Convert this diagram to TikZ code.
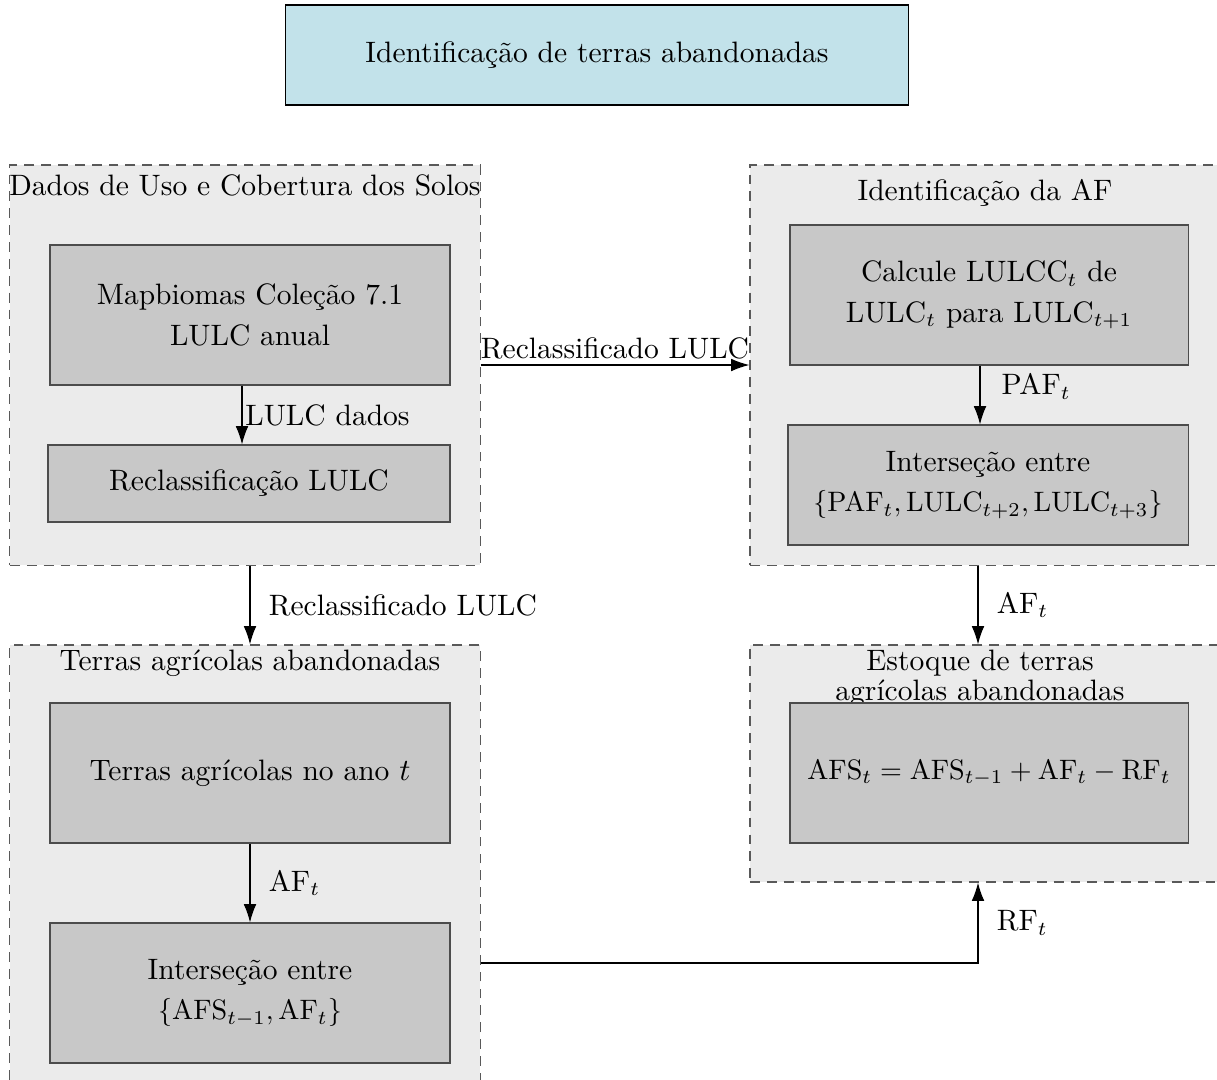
\documentclass[tikz,border=0pt]{standalone}
\usetikzlibrary{arrows.meta}
\definecolor{topblue}{HTML}{C2E2EA}
\definecolor{grpgray}{HTML}{EBEBEB}
\definecolor{blkgray}{HTML}{C8C8C8}
\tikzset{
  grp/.style={draw=black!65, dash pattern=on 3.5pt off 2.5pt, fill=grpgray, minimum width=5.875cm},
  blk/.style={draw=black!70, fill=blkgray, minimum width=5cm, minimum height=1.75cm, align=center, font=\fontsize{10.5}{14.5}\selectfont},
  arr/.style={-{Latex[length=6.5pt,width=4.5pt]}}
}
\begin{document}
\fontsize{10.5}{12.6}\selectfont
\begin{tikzpicture}[x=0.0125cm,y=-0.0125cm]
  \useasboundingbox (0,0) rectangle (1217,1079);
  \node[draw, fill=topblue, minimum width=7.775cm, minimum height=1.25cm] (top) at (597,55) {Identificação de terras abandonadas};
  % grupos
  \node[grp, minimum height=5cm] (dados) at (245,365) {};
  \node[grp, minimum height=5cm] (ident) at (985,365) {};
  \node[grp, minimum height=5.5cm] (terras) at (245,865) {};
  \node[grp, minimum height=2.9625cm] (estoque) at (985,763.5) {};
  \node (dadost) at (245,185) {Dados de Uso e Cobertura dos Solos};
  \node (identt) at (985,193) {Identificação da AF};
  \node (terrast) at (250,663) {Terras agrícolas abandonadas};
  \node[align=center, inner sep=0pt] (estoquet) at (980,678) {Estoque de terras\\[-2pt] agrícolas abandonadas};
  % blocos
  \node[blk] (mapb) at (250,315) {Mapbiomas Coleção 7.1\\LULC anual};
  \node[blk, minimum width=5.025cm, minimum height=0.9625cm] (recl) at (249,483.5) {Reclassificação LULC};
  \node[blk, minimum width=4.975cm] (calc) at (989,295) {Calcule LULCC$_t$ de\\LULC$_t$ para LULC$_{t+1}$};
  \node[blk, minimum height=1.5cm] (inter) at (988,485) {Interseção entre\\\fontsize{10}{12}\selectfont$\{\mathrm{PAF}_t, \mathrm{LULC}_{t+2}, \mathrm{LULC}_{t+3}\}$};
  \node[blk] (agric) at (250,773) {Terras agrícolas no ano $t$};
  \node[blk] (interc) at (250,993) {Interseção entre\\\fontsize{10}{12}\selectfont$\{\mathrm{AFS}_{t-1}, \mathrm{AF}_t\}$};
  \node[blk, minimum width=4.975cm, font=\fontsize{10}{12}\selectfont] (afs) at (989,773) {$\mathrm{AFS}_t = \mathrm{AFS}_{t-1} + \mathrm{AF}_t - \mathrm{RF}_t$};
  % conectores
  \draw[arr] (mapb.south -| 242,0) -- node[right, inner sep=1pt] {LULC dados} (recl.north -| 242,0);
  \draw[arr] (dados.east) -- node[above, inner sep=2pt] {Reclassificado LULC} (ident.west);
  \draw[arr] (calc.south -| 980,0) -- node[pos=0.35, right, xshift=4pt] {PAF$_t$} (inter.north -| 980,0);
  \draw[arr] (dados.south -| 250,0) -- node[right, xshift=3pt] {Reclassificado LULC} (terras.north -| 250,0);
  \draw[arr] (ident.south -| 978,0) -- node[right, xshift=3pt] {AF$_t$} (estoque.north -| 978,0);
  \draw[arr] (agric.south) -- node[right, xshift=3pt] {AF$_t$} (interc.north);
  \draw[arr] (terras.east |- 0,963) -| node[pos=0.75, right, xshift=3pt] {RF$_t$} (estoque.south -| 978,0);
\end{tikzpicture}
\end{document}
